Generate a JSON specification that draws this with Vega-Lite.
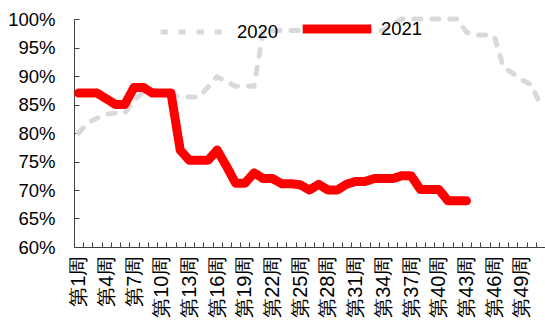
{
  "$schema": "https://vega.github.io/schema/vega-lite/v6.json",
  "autosize": {"type": "none"},
  "width": 471,
  "height": 228,
  "padding": {"left": 74, "top": 19, "right": 0, "bottom": 74},
  "background": "white",
  "config": {"view": {"stroke": null}},
  "data": {"values": [
    {"week": 1, "year": "2020", "v": 0.80},
    {"week": 2, "year": "2020", "v": 0.818},
    {"week": 3, "year": "2020", "v": 0.826},
    {"week": 4, "year": "2020", "v": 0.833},
    {"week": 5, "year": "2020", "v": 0.835},
    {"week": 6, "year": "2020", "v": 0.835},
    {"week": 7, "year": "2020", "v": 0.857},
    {"week": 8, "year": "2020", "v": 0.872},
    {"week": 9, "year": "2020", "v": 0.870},
    {"week": 10, "year": "2020", "v": 0.870},
    {"week": 11, "year": "2020", "v": 0.867},
    {"week": 12, "year": "2020", "v": 0.864},
    {"week": 13, "year": "2020", "v": 0.863},
    {"week": 14, "year": "2020", "v": 0.863},
    {"week": 15, "year": "2020", "v": 0.880},
    {"week": 16, "year": "2020", "v": 0.899},
    {"week": 17, "year": "2020", "v": 0.890},
    {"week": 18, "year": "2020", "v": 0.882},
    {"week": 19, "year": "2020", "v": 0.882},
    {"week": 20, "year": "2020", "v": 0.882},
    {"week": 21, "year": "2020", "v": 0.980},
    {"week": 22, "year": "2020", "v": 0.980},
    {"week": 23, "year": "2020", "v": 0.980},
    {"week": 24, "year": "2020", "v": 0.980},
    {"week": 25, "year": "2020", "v": 0.980},
    {"week": 26, "year": "2020", "v": 0.980},
    {"week": 27, "year": "2020", "v": 0.980},
    {"week": 28, "year": "2020", "v": 0.980},
    {"week": 29, "year": "2020", "v": 0.980},
    {"week": 30, "year": "2020", "v": 0.980},
    {"week": 31, "year": "2020", "v": 0.980},
    {"week": 32, "year": "2020", "v": 0.980},
    {"week": 33, "year": "2020", "v": 0.980},
    {"week": 34, "year": "2020", "v": 0.980},
    {"week": 35, "year": "2020", "v": 0.990},
    {"week": 36, "year": "2020", "v": 1.0},
    {"week": 37, "year": "2020", "v": 1.0},
    {"week": 38, "year": "2020", "v": 1.0},
    {"week": 39, "year": "2020", "v": 1.0},
    {"week": 40, "year": "2020", "v": 1.0},
    {"week": 41, "year": "2020", "v": 1.0},
    {"week": 42, "year": "2020", "v": 1.0},
    {"week": 43, "year": "2020", "v": 0.977},
    {"week": 44, "year": "2020", "v": 0.972},
    {"week": 45, "year": "2020", "v": 0.972},
    {"week": 46, "year": "2020", "v": 0.970},
    {"week": 47, "year": "2020", "v": 0.915},
    {"week": 48, "year": "2020", "v": 0.905},
    {"week": 49, "year": "2020", "v": 0.893},
    {"week": 50, "year": "2020", "v": 0.885},
    {"week": 51, "year": "2020", "v": 0.850},
    {"week": 1, "year": "2021", "v": 0.870},
    {"week": 2, "year": "2021", "v": 0.870},
    {"week": 3, "year": "2021", "v": 0.870},
    {"week": 4, "year": "2021", "v": 0.860},
    {"week": 5, "year": "2021", "v": 0.850},
    {"week": 6, "year": "2021", "v": 0.850},
    {"week": 7, "year": "2021", "v": 0.880},
    {"week": 8, "year": "2021", "v": 0.880},
    {"week": 9, "year": "2021", "v": 0.870},
    {"week": 10, "year": "2021", "v": 0.870},
    {"week": 11, "year": "2021", "v": 0.870},
    {"week": 12, "year": "2021", "v": 0.770},
    {"week": 13, "year": "2021", "v": 0.752},
    {"week": 14, "year": "2021", "v": 0.752},
    {"week": 15, "year": "2021", "v": 0.752},
    {"week": 16, "year": "2021", "v": 0.770},
    {"week": 17, "year": "2021", "v": 0.742},
    {"week": 18, "year": "2021", "v": 0.712},
    {"week": 19, "year": "2021", "v": 0.712},
    {"week": 20, "year": "2021", "v": 0.730},
    {"week": 21, "year": "2021", "v": 0.720},
    {"week": 22, "year": "2021", "v": 0.720},
    {"week": 23, "year": "2021", "v": 0.711},
    {"week": 24, "year": "2021", "v": 0.711},
    {"week": 25, "year": "2021", "v": 0.709},
    {"week": 26, "year": "2021", "v": 0.700},
    {"week": 27, "year": "2021", "v": 0.710},
    {"week": 28, "year": "2021", "v": 0.700},
    {"week": 29, "year": "2021", "v": 0.700},
    {"week": 30, "year": "2021", "v": 0.710},
    {"week": 31, "year": "2021", "v": 0.715},
    {"week": 32, "year": "2021", "v": 0.715},
    {"week": 33, "year": "2021", "v": 0.720},
    {"week": 34, "year": "2021", "v": 0.720},
    {"week": 35, "year": "2021", "v": 0.720},
    {"week": 36, "year": "2021", "v": 0.725},
    {"week": 37, "year": "2021", "v": 0.725},
    {"week": 38, "year": "2021", "v": 0.701},
    {"week": 39, "year": "2021", "v": 0.701},
    {"week": 40, "year": "2021", "v": 0.701},
    {"week": 41, "year": "2021", "v": 0.681},
    {"week": 42, "year": "2021", "v": 0.681},
    {"week": 43, "year": "2021", "v": 0.681}
  ]},
  "mark": {"type": "line", "strokeCap": "round", "strokeJoin": "round", "clip": false},
  "encoding": {
    "x": {
      "field": "week", "type": "ordinal", "bandPosition": 0.5,
      "scale": {"type": "band", "paddingInner": 0, "paddingOuter": 0},
      "axis": {
        "title": null,
        "labelExpr": "(datum.value - 1) % 3 == 0 ? '第' + datum.value + '周' : ''",
        "labelAngle": -90,
        "labelFont": "Liberation Sans",
        "labelFontSize": 20,
        "labelColor": "#000000",
        "labelPadding": 13,
        "tickBand": "extent",
        "tickSize": -5,
        "tickColor": "#404040",
        "domainColor": "#404040",
        "labelOverlap": false,
        "grid": false
      }
    },
    "y": {
      "field": "v", "type": "quantitative",
      "scale": {"domain": [0.6, 1.0], "nice": false, "zero": false},
      "axis": {
        "title": null,
        "values": [0.6, 0.65, 0.7, 0.75, 0.8, 0.85, 0.9, 0.95, 1.0],
        "format": ".0%",
        "labelFont": "Liberation Sans",
        "labelFontSize": 18.5,
        "labelColor": "#000000",
        "labelPadding": 24,
        "tickSize": -5,
        "tickColor": "#404040",
        "domainColor": "#404040",
        "grid": false
      }
    },
    "color": {
      "field": "year", "type": "nominal",
      "scale": {"domain": ["2020", "2021"], "range": ["#d9d9d9", "#ff0000"]},
      "legend": {
        "title": null,
        "orient": "none",
        "direction": "horizontal",
        "legendX": 84,
        "legendY": -29,
        "padding": 0,
        "labelFont": "Liberation Sans",
        "labelFontSize": 18.5,
        "labelColor": "#000000",
        "labelOffset": 5,
        "columnPadding": 5,
        "symbolType": "stroke",
        "symbolSize": 4700
      }
    },
    "strokeDash": {
      "field": "year", "type": "nominal",
      "scale": {"domain": ["2020", "2021"], "range": [[7, 11], [1, 0]]}
    },
    "strokeWidth": {
      "field": "year", "type": "nominal",
      "scale": {"domain": ["2020", "2021"], "range": [5, 9]}
    }
  }
}
